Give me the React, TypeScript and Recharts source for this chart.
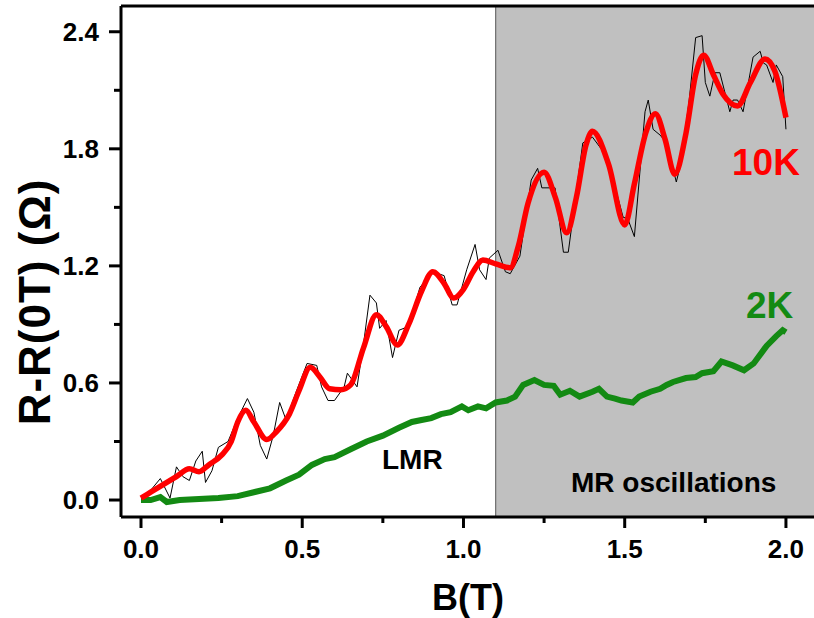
import React from "react";
import {
  LineChart,
  Line,
  XAxis,
  YAxis,
  ReferenceArea,
  ReferenceLine,
} from "recharts";

// 10K raw (thin black)
const rawB = [
  0.0, 0.03, 0.06, 0.09, 0.11, 0.13, 0.15, 0.17, 0.19, 0.2, 0.22, 0.24, 0.27,
  0.3, 0.33, 0.35, 0.37, 0.39, 0.41, 0.43, 0.45, 0.48, 0.515, 0.545, 0.56,
  0.58, 0.6, 0.63, 0.64, 0.67, 0.69, 0.71, 0.73, 0.74, 0.76, 0.78, 0.8, 0.83,
  0.865, 0.905, 0.94, 0.965, 0.98, 1.01, 1.036, 1.05, 1.07, 1.08, 1.107, 1.13,
  1.145, 1.175, 1.21, 1.23, 1.243, 1.284, 1.31, 1.325, 1.37, 1.4, 1.445, 1.495,
  1.51, 1.53, 1.563, 1.573, 1.588, 1.61, 1.63, 1.66, 1.675, 1.7, 1.72, 1.74,
  1.75, 1.764, 1.78, 1.795, 1.826, 1.836, 1.85, 1.867, 1.898, 1.92, 1.93, 1.94,
  1.96, 1.97, 1.99, 2.0,
];
const rawR = [
  0.01, 0.05, 0.11, 0.01, 0.17, 0.12, 0.1, 0.2, 0.25, 0.09, 0.15, 0.27, 0.3,
  0.42, 0.52, 0.45, 0.28, 0.21, 0.33, 0.5, 0.41, 0.55, 0.7, 0.69, 0.58, 0.51,
  0.51, 0.58, 0.65, 0.58, 0.8, 1.05, 1.01, 0.88, 0.92, 0.73, 0.87, 0.89, 1.09,
  1.17, 1.15, 1.0, 1.0, 1.18, 1.31, 1.18, 1.13, 1.24, 1.28, 1.17, 1.16, 1.25,
  1.64, 1.7, 1.6, 1.6, 1.27, 1.27, 1.83, 1.86, 1.76, 1.45, 1.44, 1.35, 1.99,
  2.05, 1.9, 1.87, 1.83, 1.63, 1.73, 2.05, 2.37, 2.38, 2.14, 2.07, 2.19, 2.19,
  1.99, 2.05, 2.05, 1.99, 2.27, 2.3, 2.24, 2.23, 2.14, 2.23, 2.17, 1.9,
];

// 10K smoothed (thick red)
const smoothB = [
  0.0, 0.03, 0.07, 0.11, 0.15, 0.18, 0.21, 0.25, 0.28, 0.3, 0.325, 0.35, 0.39,
  0.42, 0.46, 0.49, 0.525, 0.555, 0.585, 0.62, 0.65, 0.69, 0.73, 0.76, 0.795,
  0.83, 0.87, 0.905, 0.94, 0.97, 1.0, 1.03, 1.06, 1.1, 1.145, 1.17, 1.2, 1.25,
  1.285, 1.32, 1.35, 1.38, 1.4, 1.45, 1.5, 1.53, 1.565, 1.595, 1.625, 1.655,
  1.69, 1.72, 1.745, 1.775, 1.805, 1.85, 1.89, 1.935, 1.965, 2.0,
];
const smoothR = [
  0.01, 0.04, 0.08, 0.12, 0.16, 0.145, 0.18, 0.23, 0.3, 0.4, 0.46, 0.4, 0.31,
  0.35, 0.44, 0.56, 0.68, 0.63, 0.57, 0.565, 0.59, 0.78, 0.95, 0.89, 0.795,
  0.9, 1.07, 1.17, 1.11, 1.035, 1.08, 1.17, 1.23, 1.21, 1.19, 1.3, 1.52, 1.68,
  1.55, 1.37, 1.55, 1.82, 1.89, 1.72, 1.41, 1.62, 1.88, 1.98, 1.85, 1.67,
  1.88, 2.18, 2.28, 2.18, 2.08, 2.02, 2.14, 2.26, 2.2, 1.96,
];

// 2K (thick green)
const lowB = [
  0.0, 0.03, 0.06, 0.08, 0.12, 0.18, 0.24, 0.3, 0.35, 0.4, 0.45, 0.49, 0.53,
  0.57, 0.6, 0.65, 0.7, 0.75, 0.8, 0.84, 0.87, 0.9, 0.93, 0.96, 0.995, 1.015,
  1.045, 1.07, 1.1, 1.135, 1.16, 1.185, 1.22, 1.25, 1.28, 1.3, 1.33, 1.36, 1.4,
  1.42, 1.445, 1.47, 1.49, 1.525, 1.545, 1.58, 1.61, 1.63, 1.65, 1.69, 1.72,
  1.74, 1.775, 1.8, 1.835, 1.87, 1.9, 1.94, 1.97, 1.99, 2.0,
];
const lowR = [
  0.0, 0.0, 0.015, -0.01, 0.0, 0.005, 0.01, 0.02, 0.04, 0.06, 0.1, 0.13, 0.18,
  0.21, 0.22, 0.26, 0.3, 0.33, 0.37, 0.4, 0.41, 0.42, 0.44, 0.45, 0.48, 0.46,
  0.48, 0.47, 0.5, 0.51, 0.53, 0.59, 0.615, 0.59, 0.585, 0.54, 0.56, 0.53,
  0.555, 0.57, 0.53, 0.52, 0.51, 0.5, 0.53, 0.555, 0.57, 0.59, 0.605, 0.625,
  0.63, 0.65, 0.66, 0.71, 0.69, 0.665, 0.7, 0.79, 0.84, 0.87, 0.86,
];

const xTicks = [0, 0.25, 0.5, 0.75, 1, 1.25, 1.5, 1.75, 2];
const yTicks = [0, 0.3, 0.6, 0.9, 1.2, 1.5, 1.8, 2.1, 2.4];
const xDomain = [-0.062, 2.087];
const yDomain = [-0.087, 2.532];
const shadeStart = 1.1;

const toPoints = (xs: number[], ys: number[]) =>
  xs.map((x, i) => ({ x, y: ys[i] }));

const rawData = toPoints(rawB, rawR);
const smoothData = toPoints(smoothB, smoothR);
const lowData = toPoints(lowB, lowR);

const font = "'Liberation Sans', Arial, sans-serif";
const green = "#138a13";

const isMajor = (v: number, step: number) =>
  Math.abs(v / step - Math.round(v / step)) < 1e-6;

const XTick = (props: any) => {
  const { x, y, payload } = props;
  const major = isMajor(payload.value, 0.5);
  return (
    <g>
      <line x1={x} x2={x} y1={y} y2={y + (major ? 11 : 6)} stroke="#000" strokeWidth={3} />
      {major && (
        <text x={x} y={y + 41} textAnchor="middle" fontFamily={font} fontWeight="bold" fontSize={26} fill="#000">
          {payload.value.toFixed(1)}
        </text>
      )}
    </g>
  );
};

const YTick = (props: any) => {
  const { x, y, payload } = props;
  const major = isMajor(payload.value, 0.6);
  return (
    <g>
      <line x1={x} x2={x - (major ? 12 : 7)} y1={y} y2={y} stroke="#000" strokeWidth={3} />
      {major && (
        <text x={x - 22} y={y + 9} textAnchor="end" fontFamily={font} fontWeight="bold" fontSize={26} fill="#000">
          {payload.value.toFixed(1)}
        </text>
      )}
    </g>
  );
};

export default function App() {
  return (
    <div style={{ position: "absolute", left: 0, top: 0, width: 814, height: 618, background: "#fff" }}>
      <LineChart
        width={814}
        height={618}
        margin={{ top: 6, right: 0, left: 61, bottom: 41 }}
      >
        <ReferenceArea
          x1={shadeStart}
          x2={xDomain[1]}
          y1={yDomain[0]}
          y2={yDomain[1]}
          fill="#c0c0c0"
          fillOpacity={1}
          stroke="none"
        />
        <ReferenceLine x={shadeStart} stroke="#555" strokeWidth={1} />
        <XAxis
          type="number"
          dataKey="x"
          domain={xDomain}
          ticks={xTicks}
          interval={0}
          allowDataOverflow
          height={60}
          tickSize={0}
          tickMargin={0}
          tickLine={false}
          tick={<XTick />}
          axisLine={{ stroke: "#000", strokeWidth: 3 }}
        />
        <YAxis
          type="number"
          dataKey="y"
          domain={yDomain}
          ticks={yTicks}
          interval={0}
          allowDataOverflow
          width={60}
          tickSize={0}
          tickMargin={0}
          tickLine={false}
          tick={<YTick />}
          axisLine={{ stroke: "#000", strokeWidth: 3 }}
        />
        <ReferenceLine y={yDomain[1]} stroke="#000" strokeWidth={3} />
        <Line
          data={lowData}
          dataKey="y"
          type="linear"
          stroke={green}
          strokeWidth={6}
          dot={false}
          isAnimationActive={false}
        />
        <Line
          data={rawData}
          dataKey="y"
          type="linear"
          stroke="#000"
          strokeWidth={1}
          dot={false}
          isAnimationActive={false}
        />
        <Line
          data={smoothData}
          dataKey="y"
          type="monotone"
          stroke="#ff0000"
          strokeWidth={5.5}
          dot={false}
          isAnimationActive={false}
        />
      </LineChart>
      <svg
        width={814}
        height={618}
        style={{ position: "absolute", left: 0, top: 0, pointerEvents: "none" }}
      >
        <text x={732} y={175} fontFamily={font} fontWeight="bold" fontSize={37} fill="#ff0000">
          10K
        </text>
        <text x={746} y={318} fontFamily={font} fontWeight="bold" fontSize={37} fill={green}>
          2K
        </text>
        <text x={382} y={469} fontFamily={font} fontWeight="bold" fontSize={28} fill="#000">
          LMR
        </text>
        <text x={571} y={492} fontFamily={font} fontWeight="bold" fontSize={28} fill="#000">
          MR oscillations
        </text>
        <text x={468} y={610} textAnchor="middle" fontFamily={font} fontWeight="bold" fontSize={36} fill="#000">
          B(T)
        </text>
        <text
          x={50}
          y={302}
          textAnchor="middle"
          transform="rotate(-90 50 302)"
          fontFamily={font}
          fontWeight="bold"
          fontSize={44}
          letterSpacing={1}
          fill="#000"
        >
          R-R(0T) (Ω)
        </text>
      </svg>
    </div>
  );
}
